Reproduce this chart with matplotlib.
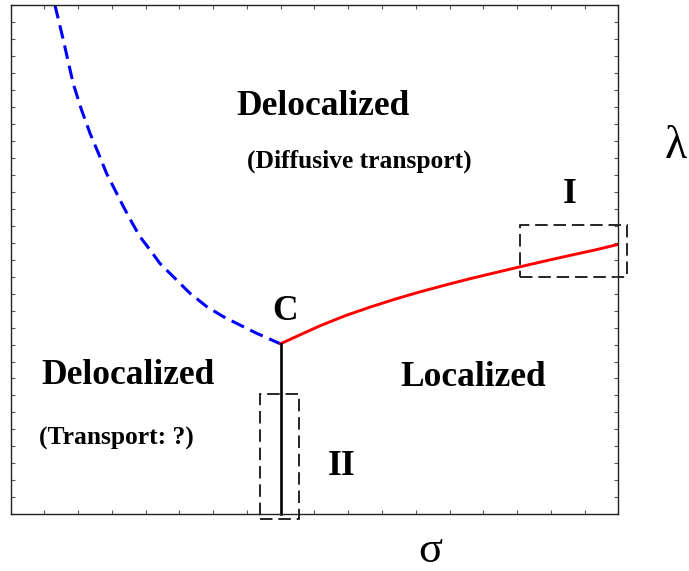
import matplotlib
matplotlib.use('Agg')
import matplotlib.pyplot as plt
from matplotlib.patches import Rectangle
from matplotlib.ticker import MultipleLocator

# phase boundaries (sigma, lambda)
blue_x = [1.31, 1.56, 1.85, 2.10, 2.35, 2.60, 2.84, 3.09, 3.34, 3.58,
          3.83, 4.13, 4.42, 4.82, 5.31, 5.81, 6.30, 6.79, 7.29, 7.98]
blue_y = [30.0, 27.93, 25.38, 23.81, 22.44, 21.26, 20.08, 19.10, 18.12, 17.23,
          16.35, 15.57, 14.78, 13.99, 13.02, 12.23, 11.64, 11.15, 10.66, 10.05]
red_x = [8.0, 8.57, 9.16, 9.90, 10.64, 11.38, 12.12, 12.87, 13.61, 14.35,
         15.09, 15.83, 16.57, 17.31, 18.0]
red_y = [10.05, 10.57, 11.10, 11.69, 12.20, 12.67, 13.10, 13.50, 13.88, 14.23,
         14.58, 14.92, 15.25, 15.57, 15.90]
black_x = [8.0, 8.0]
black_y = [10.05, 0.0]

# dashed boxes: (x0, y0, width, height)
box_I = (15.1, 14.0, 3.15, 3.06)
box_II = (7.38, -0.25, 1.17, 7.31)

plt.rcParams['font.family'] = ['Liberation Serif', 'DejaVu Serif']

fig = plt.figure(figsize=(6.89, 5.71), dpi=100)
ax = fig.add_axes([10.7/689, 1-514.3/571, 607.6/689, 509.3/571])
ax.set_xlim(0, 18)
ax.set_ylim(0, 30)

ax.plot(blue_x, blue_y, color='#0000ff', lw=2.2, dashes=(4.5, 2.3),
        solid_joinstyle='round')
ax.plot(red_x, red_y, color='#ff0000', lw=2.1, solid_joinstyle='round')
ax.plot(black_x, black_y, color='black', lw=1.9, clip_on=False)

for b in [box_I, box_II]:
    ax.add_patch(Rectangle((b[0], b[1]), b[2], b[3], fill=False, ec='black',
                           lw=1.2, ls=(0, (7.5, 3.5)), clip_on=False))

big = dict(fontsize=25.5, fontweight='bold', ha='center', va='baseline')
small = dict(fontsize=18.4, fontweight='bold', ha='center', va='baseline')
ax.text(9.26, 23.52, 'Delocalized', **big)
ax.text(10.32, 20.45, '(Diffusive transport)', **small)
ax.text(3.48, 7.70, 'Delocalized', **big)
ax.text(3.14, 4.08, '(Transport: ?)', **small)
ax.text(13.70, 7.56, 'Localized', **big)
ax.text(8.12, 11.44, 'C', **big)
ax.text(9.81, 2.32, 'II', **big)
ax.text(16.57, 18.33, 'I', **big)
ax.text(19.71, 20.98, 'λ', fontsize=33, ha='center', va='baseline', clip_on=False)
ax.text(0.625, 0.0, 'σ', fontsize=32, ha='center', va='bottom',
        transform=fig.transFigure)

ax.xaxis.set_major_locator(MultipleLocator(1))
ax.yaxis.set_major_locator(MultipleLocator(1))
ax.tick_params(direction='in', length=2.8, width=0.8, color='#555555',
               top=True, right=True, labelbottom=False, labelleft=False)
for s in ax.spines.values():
    s.set_linewidth(1.0)
    s.set_color('#222222')

plt.savefig('out.png', dpi=100)
